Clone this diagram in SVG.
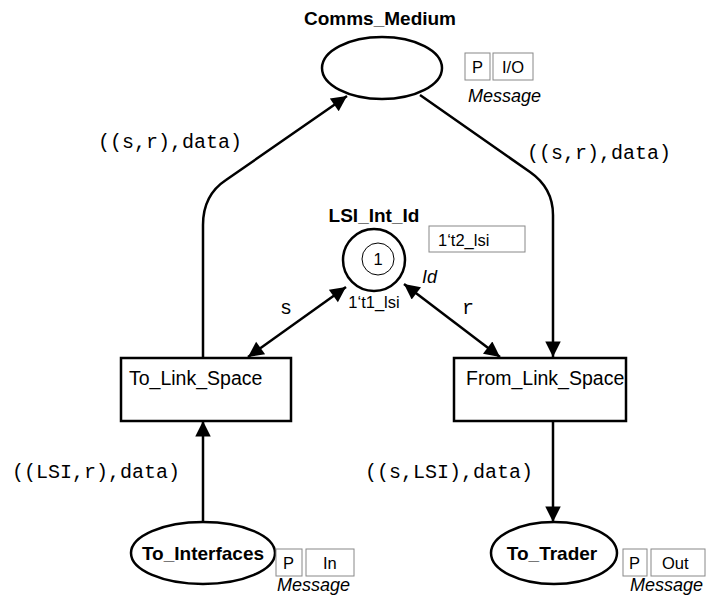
<svg xmlns="http://www.w3.org/2000/svg" width="711" height="601" viewBox="0 0 711 601">
  <style>
    .place { fill: #fff; stroke: #000; stroke-width: 2.5; }
    .trans { fill: #fff; stroke: #000; stroke-width: 2.5; }
    .tag { fill: #fff; stroke: #888; stroke-width: 1; }
    .name { font-family: "Liberation Sans", Arial, sans-serif; font-weight: bold; font-size: 19px; text-anchor: middle; }
    .plain { font-family: "Liberation Sans", Arial, sans-serif; font-size: 19.5px; }
    .small { font-family: "Liberation Sans", Arial, sans-serif; font-size: 16.5px; }
    .type { font-family: "Liberation Sans", Arial, sans-serif; font-style: italic; font-size: 18px; }
    .expr { font-family: "Liberation Mono", "Courier New", monospace; font-size: 20px; }
    .arc { fill: none; stroke: #000; stroke-width: 2.5; }
  </style>
  <defs>
    <marker id="head" viewBox="0 0 10 10" refX="10" refY="5" markerWidth="7.5" markerHeight="6.2" markerUnits="strokeWidth" orient="auto-start-reverse">
      <path d="M0,0 L10,5 L0,10 z" fill="#000"/>
    </marker>
  </defs>

  <!-- arcs -->
  <g id="arcs">
    <path class="arc" d="M203,357 L203,225 Q203,195 226,180 L347,96" marker-end="url(#head)"/>
    <path class="arc" d="M420,95 L530,172 Q553,188 553,215 L553,357" marker-end="url(#head)"/>
    <path class="arc" d="M248,357 L346,287" marker-start="url(#head)" marker-end="url(#head)"/>
    <path class="arc" d="M404,284 L500,357" marker-start="url(#head)" marker-end="url(#head)"/>
    <path class="arc" d="M203,522 L203,421" marker-end="url(#head)"/>
    <path class="arc" d="M553,421 L553,522" marker-end="url(#head)"/>
    <text class="expr" x="98" y="148">((s,r),data)</text>
    <text class="expr" x="527" y="159">((s,r),data)</text>
    <text class="expr" x="280" y="314">s</text>
    <text class="expr" x="462" y="314">r</text>
    <text class="expr" x="12" y="478">((LSI,r),data)</text>
    <text class="expr" x="365" y="478">((s,LSI),data)</text>
  </g>

  <!-- places -->
  <g id="Comms_Medium">
    <ellipse class="place" cx="382" cy="68" rx="60" ry="31"/>
    <text class="name" x="380" y="25">Comms_Medium</text>
    <rect class="tag" x="465" y="53" width="25" height="27"/>
    <rect class="tag" x="493" y="53" width="40" height="27"/>
    <text class="small" x="472" y="73">P</text>
    <text class="small" x="502" y="73">I/O</text>
    <text class="type" x="468" y="102">Message</text>
  </g>

  <g id="LSI_Int_Id">
    <circle class="place" cx="374" cy="260" r="31"/>
    <circle cx="378" cy="259" r="16" fill="none" stroke="#000" stroke-width="1"/>
    <text class="small" x="378" y="265" text-anchor="middle">1</text>
    <text class="name" x="374" y="222">LSI_Int_Id</text>
    <rect class="tag" x="429" y="226" width="96" height="26"/>
    <text class="small" x="438" y="246">1‘t2_lsi</text>
    <text class="type" x="422" y="283">Id</text>
    <text class="small" x="374" y="308" text-anchor="middle">1‘t1_lsi</text>
  </g>

  <g id="To_Interfaces">
    <ellipse class="place" cx="203" cy="553" rx="72" ry="31"/>
    <text class="name" x="203" y="560">To_Interfaces</text>
    <rect class="tag" x="276" y="549" width="26" height="27"/>
    <rect class="tag" x="306" y="549" width="48" height="27"/>
    <text class="small" x="283" y="569">P</text>
    <text class="small" x="323" y="569">In</text>
    <text class="type" x="277" y="591">Message</text>
  </g>

  <g id="To_Trader">
    <ellipse class="place" cx="554" cy="553" rx="63" ry="31"/>
    <text class="name" x="552" y="560">To_Trader</text>
    <rect class="tag" x="623" y="549" width="24" height="27"/>
    <rect class="tag" x="651" y="549" width="54" height="27"/>
    <text class="small" x="629" y="569">P</text>
    <text class="small" x="662" y="569">Out</text>
    <text class="type" x="630" y="591">Message</text>
  </g>

  <!-- transitions -->
  <g id="To_Link_Space">
    <rect class="trans" x="121" y="358" width="170" height="63"/>
    <text class="plain" x="129" y="385">To_Link_Space</text>
  </g>

  <g id="From_Link_Space">
    <rect class="trans" x="454" y="358" width="172" height="63"/>
    <text class="plain" x="466" y="385">From_Link_Space</text>
  </g>
</svg>
